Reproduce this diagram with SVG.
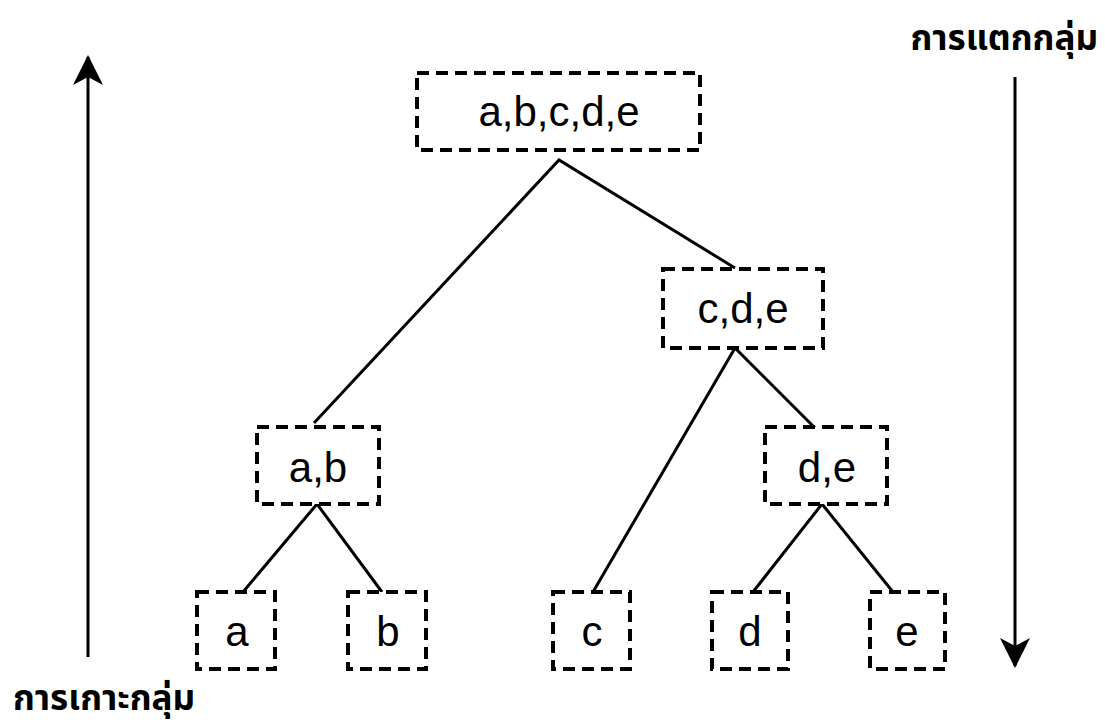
<svg xmlns="http://www.w3.org/2000/svg" width="1105" height="726" viewBox="0 0 1105 726">
  <style>
    .box { fill: #ffffff; stroke: #000000; stroke-width: 4; stroke-dasharray: 12 7; }
    .lbl { font-family: "Liberation Sans", Arial, sans-serif; font-size: 42px; fill: #000000; text-anchor: middle; }
    .edge { stroke: #000000; stroke-width: 3; fill: none; }
    .axis { stroke: #000000; stroke-width: 3; fill: none; }
    .thai { font-family: "Noto Sans Thai", "Noto Sans", "DejaVu Sans", sans-serif; font-size: 35px; font-weight: bold; fill: #000000; }
  </style>
  <defs>
    <marker id="head" viewBox="0 0 30 30" refX="28" refY="15" markerWidth="30" markerHeight="30" markerUnits="userSpaceOnUse" orient="auto">
      <path d="M0,0 L30,15 L0,30 L8,15 Z" fill="#000000"/>
    </marker>
  </defs>
  <rect width="1105" height="726" fill="#ffffff"/>

  <!-- connectors -->
  <g id="connectors">
    <polyline class="edge" points="314,423 559,160 735,268"/>
    <polyline class="edge" points="593,592 735,348 821,434"/>
    <polyline class="edge" points="243,592 317,504 382,592"/>
    <polyline class="edge" points="753,592 822,504 893,592"/>
    <line class="axis" x1="88" y1="657" x2="88" y2="57" marker-end="url(#head)"/>
    <line class="axis" x1="1015" y1="77" x2="1015" y2="666" marker-end="url(#head)"/>
  </g>

  <!-- nodes -->
  <g id="node-abcde">
    <rect class="box" x="417" y="73" width="283" height="77"/>
    <text class="lbl" x="559" y="126">a,b,c,d,e</text>
  </g>
  <g id="node-cde">
    <rect class="box" x="663" y="269" width="160" height="79"/>
    <text class="lbl" x="743" y="323">c,d,e</text>
  </g>
  <g id="node-ab">
    <rect class="box" x="257" y="427" width="122" height="77"/>
    <text class="lbl" x="318" y="482">a,b</text>
  </g>
  <g id="node-de">
    <rect class="box" x="765" y="427" width="122" height="77"/>
    <text class="lbl" x="827" y="482">d,e</text>
  </g>
  <g id="node-a">
    <rect class="box" x="197" y="592" width="78" height="77"/>
    <text class="lbl" x="237" y="646">a</text>
  </g>
  <g id="node-b">
    <rect class="box" x="348" y="592" width="78" height="77"/>
    <text class="lbl" x="388" y="646">b</text>
  </g>
  <g id="node-c">
    <rect class="box" x="553" y="592" width="77" height="77"/>
    <text class="lbl" x="592" y="646">c</text>
  </g>
  <g id="node-d">
    <rect class="box" x="712" y="592" width="76" height="77"/>
    <text class="lbl" x="750" y="646">d</text>
  </g>
  <g id="node-e">
    <rect class="box" x="870" y="592" width="75" height="77"/>
    <text class="lbl" x="907" y="646">e</text>
  </g>

  <!-- axis captions -->
  <g id="caption-divisive">
    <text class="thai" x="1098" y="50" text-anchor="end">การแตกกลุ่ม</text>
  </g>
  <g id="caption-agglomerative">
    <text class="thai" x="13" y="710">การเกาะกลุ่ม</text>
  </g>
</svg>
